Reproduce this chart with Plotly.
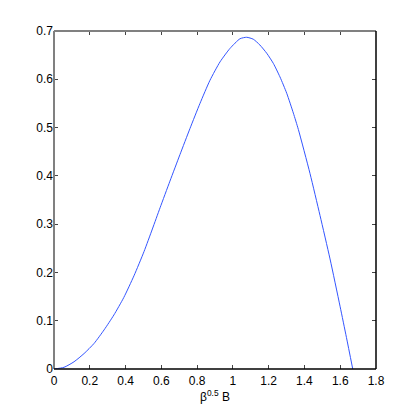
import plotly.graph_objects as go

# curve (x = beta^0.5 B)
x_vals = [0.0, 0.056, 0.112, 0.168, 0.224, 0.28, 0.335, 0.39, 0.447, 0.503,
          0.55, 0.593, 0.648, 0.704, 0.76, 0.816, 0.872, 0.928, 0.984, 1.04,
          1.077, 1.114, 1.151, 1.189, 1.226, 1.263, 1.301, 1.338, 1.366,
          1.431, 1.487, 1.543, 1.599, 1.635, 1.67]
y_vals = [0.0, 0.0035, 0.015, 0.032, 0.053, 0.081, 0.112, 0.148, 0.193, 0.243,
          0.290, 0.334, 0.389, 0.444, 0.498, 0.550, 0.598, 0.636, 0.664, 0.684,
          0.687, 0.683, 0.671, 0.654, 0.633, 0.605, 0.571, 0.530, 0.496,
          0.405, 0.318, 0.228, 0.130, 0.065, 0.0]

x_ticks = [0, 0.2, 0.4, 0.6, 0.8, 1, 1.2, 1.4, 1.6, 1.8]
x_tick_text = ["0", "0.2", "0.4", "0.6", "0.8", "1", "1.2", "1.4", "1.6", "1.8"]
y_ticks = [0, 0.1, 0.2, 0.3, 0.4, 0.5, 0.6, 0.7]
y_tick_text = ["0", "0.1", "0.2", "0.3", "0.4", "0.5", "0.6", "0.7"]

font = dict(family="Liberation Sans Narrow, Liberation Sans, Arial", size=12, color="black")

fig = go.Figure()
fig.add_trace(
    go.Scatter(
        x=x_vals,
        y=y_vals,
        mode="lines",
        line=dict(color="#3355ff", width=1, shape="spline", smoothing=0.6),
        showlegend=False,
    )
)

axis_common = dict(
    ticks="inside",
    ticklen=4,
    tickcolor="#444444",
    tickwidth=1,
    mirror="ticks",
    showline=False,
    showgrid=False,
    zeroline=False,
    tickfont=font,
)

fig.update_xaxes(
    range=[0, 1.8],
    tickvals=x_ticks,
    ticktext=x_tick_text,
    ticklabelstandoff=3,
    title=dict(text="β<sup>0.5</sup> B", font=font, standoff=0),
    **axis_common,
)
fig.update_yaxes(
    range=[0, 0.7],
    tickvals=y_ticks,
    ticktext=y_tick_text,
    ticklabelstandoff=0,
    **axis_common,
)

# box frame: left/top drawn grey, bottom/right black as in the reference
frame = [
    (0, 0, 0, 1, "#808080", 2),
    (0, 1, 1, 1, "#808080", 2),
    (0, 0, 1, 0, "black", 1.5),
    (1, 0, 1, 1, "black", 1.5),
]
for x0, y0, x1, y1, col, w in frame:
    fig.add_shape(type="line", xref="paper", yref="paper",
                  x0=x0, y0=y0, x1=x1, y1=y1, line=dict(color=col, width=w))

# page body has an 8px margin, so the figure is 8px smaller than the window
fig.update_layout(
    width=407,
    height=407,
    margin=dict(l=46, r=39, t=23, b=46),
    paper_bgcolor="white",
    plot_bgcolor="white",
    font=font,
)

fig.write_html("out.html")
